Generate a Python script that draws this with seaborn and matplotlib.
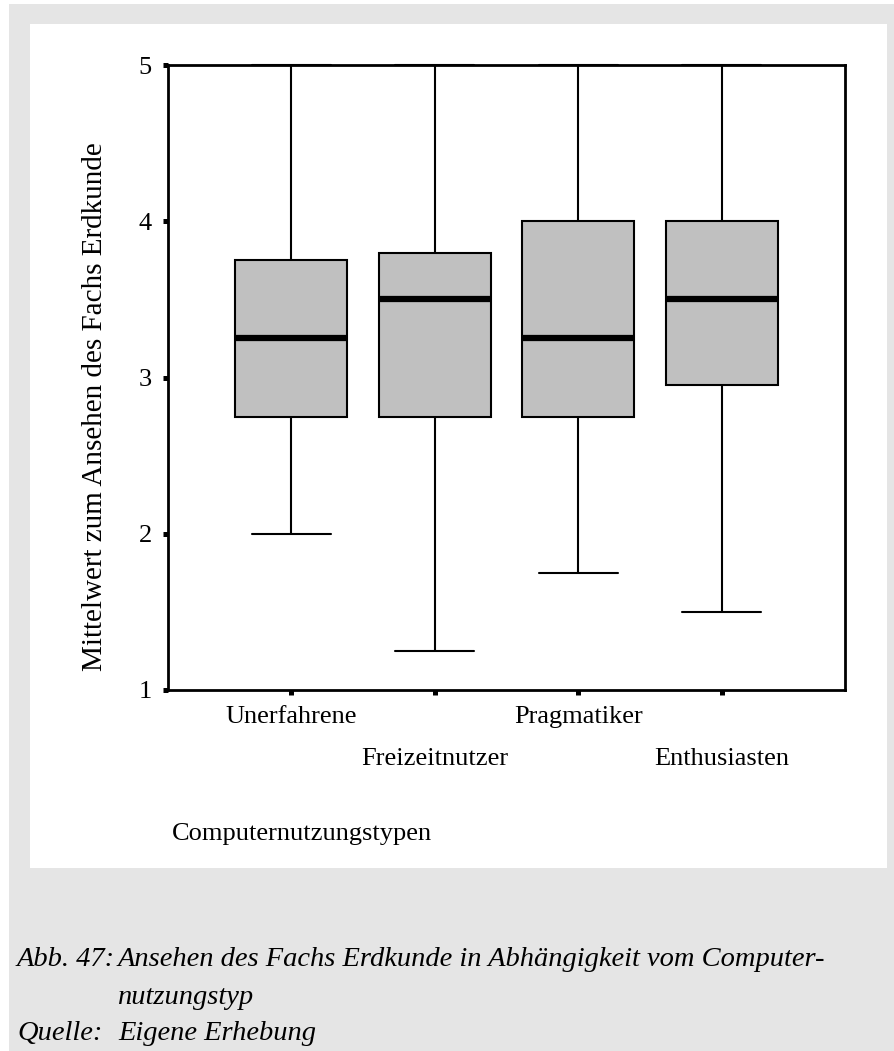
import numpy as np
import pandas as pd
import matplotlib
matplotlib.use("Agg")
import matplotlib.pyplot as plt
from matplotlib.patches import Rectangle
from matplotlib.transforms import ScaledTranslation
import seaborn as sns

# ---- data (five-number summaries) ----
categories = ["Unerfahrene", "Freizeitnutzer", "Pragmatiker", "Enthusiasten"]
whisker_low = [2.0, 1.25, 1.75, 1.5]
q1 = [2.75, 2.75, 2.75, 2.95]
median = [3.25, 3.5, 3.25, 3.5]
q3 = [3.75, 3.8, 4.0, 4.0]
whisker_high = [5.0, 5.0, 5.0, 5.0]
y_ticks = [1, 2, 3, 4, 5]

ylabel = "Mittelwert zum Ansehen des Fachs Erdkunde"
xlabel = "Computernutzungstypen"

rows = []
for i, c in enumerate(categories):
    for v in (whisker_low[i], q1[i], median[i], q3[i], whisker_high[i]):
        rows.append({"typ": c, "wert": v})
df = pd.DataFrame(rows)

sns.set_theme(style="white")
plt.rcParams["font.family"] = ["Liberation Serif", "DejaVu Serif"]

fig = plt.figure(figsize=(8.95, 10.51), dpi=100)
fig.patch.set_facecolor("#e5e5e5")
# white outer margins and white chart panel
W, H = 895.0, 1051.0
fig.patches.append(Rectangle((0, 1 - 4 / H), 1, 4 / H, transform=fig.transFigure,
                             facecolor="white", edgecolor="none", zorder=-3))
fig.patches.append(Rectangle((0, 0), 9 / W, 1, transform=fig.transFigure,
                             facecolor="white", edgecolor="none", zorder=-3))
fig.patches.append(Rectangle((30 / W, 1 - 868 / H), (887 - 30) / W, (868 - 24) / H,
                             transform=fig.transFigure, facecolor="white",
                             edgecolor="none", zorder=-2))

ax = fig.add_axes([168 / W, 1 - 690 / H, (845 - 168) / W, (690 - 65) / H])
ax.set_facecolor("white")

sns.boxplot(data=df, x="typ", y="wert", order=categories, ax=ax,
            color="#c0c0c0", saturation=1, width=0.78, whis=1.5,
            linecolor="black", linewidth=1.5, fliersize=0,
            medianprops=dict(linewidth=4.5, color="black"))

# widen whisker caps relative to seaborn's default
for cont in ax.containers:
    caps = getattr(cont, "caps", [])
    for cap in caps:
        xd = np.asarray(cap.get_xdata(), dtype=float)
        cx = xd.mean()
        cap.set_xdata(cx + (xd - cx) * (0.55 / 0.39))
        cap.set_clip_on(False)

ax.set_ylim(1, 5)
ax.set_xlim(-0.86, 3.86)
ax.set_yticks(y_ticks)
ax.set_yticklabels([str(t) for t in y_ticks])

for s in ax.spines.values():
    s.set_visible(True)
    s.set_color("black")
    s.set_linewidth(2.0)

ax.tick_params(axis="both", which="major", direction="out", length=3.6, width=3.6,
               color="black", labelsize=19, labelcolor="black", pad=8,
               left=True, bottom=True)

# staggered category labels
for i, lab in enumerate(ax.get_xticklabels()):
    if i % 2 == 1:
        lab.set_transform(lab.get_transform() +
                          ScaledTranslation(0, -0.42, fig.dpi_scale_trans))

ax.set_ylabel(ylabel, fontsize=21, color="black")
ax.yaxis.set_label_coords(-0.088, 0.454)
ax.set_xlabel(xlabel, fontsize=19, color="black", loc="left")
ax.xaxis.set_label_coords(0.006, -0.213)

# caption
cap_kw = dict(fontsize=20.5, style="italic", color="black", va="center", ha="left")
fig.text(17 / W, 1 - 960 / H, "Abb. 47:", **cap_kw)
fig.text(118 / W, 1 - 960 / H,
         "Ansehen des Fachs Erdkunde in Abhängigkeit vom Computer-", **cap_kw)
fig.text(118 / W, 1 - 997 / H, "nutzungstyp", **cap_kw)
fig.text(17 / W, 1 - 1033 / H, "Quelle:", **cap_kw)
fig.text(118 / W, 1 - 1033 / H, "Eigene Erhebung", **cap_kw)

fig.savefig("out.png", dpi=100, facecolor=fig.get_facecolor())
